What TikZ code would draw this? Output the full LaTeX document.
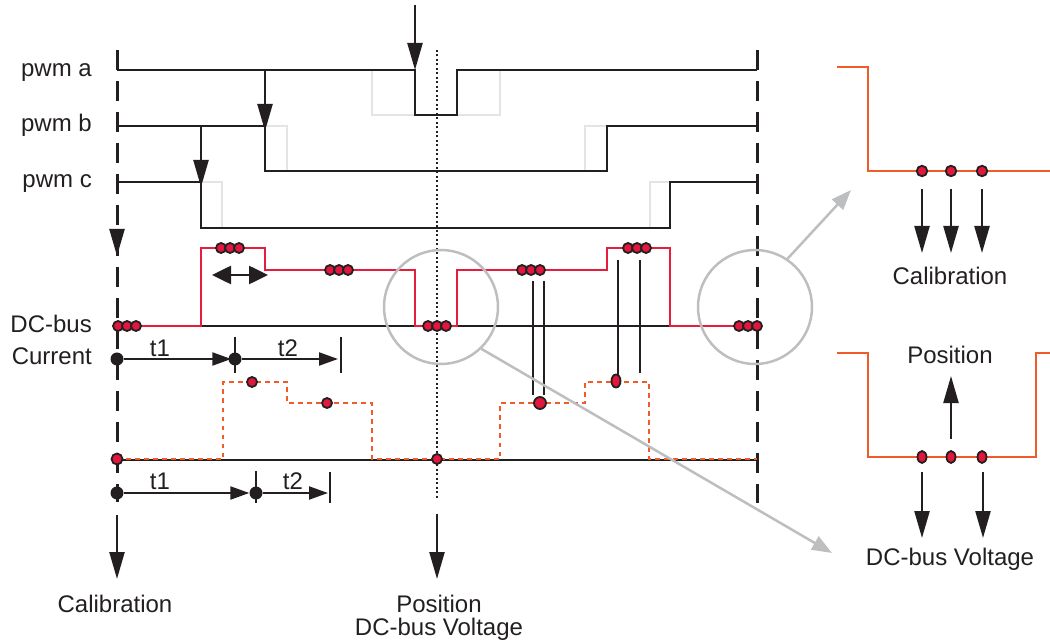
\documentclass[tikz,border=0pt]{standalone}
\usepackage{fontspec}
\setmainfont{Liberation Sans}
\usetikzlibrary{arrows.meta,positioning,calc,shapes.geometric}
\definecolor{Ink}{HTML}{231F20}
\definecolor{Pulse}{HTML}{E41E3C}
\definecolor{Volt}{HTML}{F15A29}
\definecolor{Ghost}{HTML}{E4E4E4}
\definecolor{Lens}{HTML}{BDBEC0}
\definecolor{Sample}{HTML}{E3173E}

\begin{document}
\begin{tikzpicture}[x=1pt,y=-1pt,
  lbl/.style={font=\fontsize{24}{28}\selectfont,text=Ink,inner sep=0pt,anchor=base},
  wave/.style={Ink,line width=2.3pt},
  ghost/.style={Ghost,line width=2pt},
  cutline/.style={Ink,line width=3pt,dash pattern=on 20pt off 11pt},
  midline/.style={Ink,line width=1.7pt,dash pattern=on 2pt off 2.5pt},
  drop/.style={Ink,line width=2.3pt,-{Triangle[length=27pt,width=15pt]}},
  tspan/.style={Ink,line width=2.2pt,-{Triangle[length=19pt,width=13pt]}},
  zoomto/.style={Lens,line width=2.5pt,-{Triangle[length=20pt,width=15pt]}},
  sample/.style={circle,fill=Sample,draw=Ink,line width=1.8pt,minimum size=10pt,inner sep=0pt},
  tdot/.style={circle,fill=Ink,minimum size=13pt,inner sep=0pt},
  lens/.style={circle,draw=Lens,line width=2.5pt,minimum size=114pt,inner sep=0pt}
]
\useasboundingbox (0,0) rectangle (1050,644);
% signal names
\node[lbl,anchor=base east] (pwma) at (92,77) {pwm a};
\node[lbl,anchor=base east] (pwmb) at (92,132) {pwm b};
\node[lbl,anchor=base east] (pwmc) at (92,188) {pwm c};
\node[lbl,anchor=base east] (dcbus) at (92,333) {DC-bus};
\node[lbl,anchor=base east] (current) at (92,365) {Current};
% window borders
\draw[cutline] (117,50) -- (117,502);
\draw[cutline] (757,50) -- (757,503);
\draw[midline] (437,50) -- (437,498);
% previous pwm edges
\draw[ghost] (372,70) -- (372,115) -- (500,115) -- (500,70);
\draw[ghost] (265,126) -- (287,126) -- (287,171);
\draw[ghost] (585,171) -- (585,126) -- (607,126);
\draw[ghost] (201,182) -- (222,182) -- (222,228);
\draw[ghost] (650,228) -- (650,182) -- (670,182);
% pwm signals
\draw[wave] (117,70) -- (415,70) -- (415,115) -- (457,115) -- (457,70) -- (757,70);
\draw[wave] (117,126) -- (265,126) -- (265,171) -- (607,171) -- (607,126) -- (757,126);
\draw[wave] (117,182) -- (201,182) -- (201,228) -- (670,228) -- (670,182) -- (757,182);
\draw[drop] (415,5) -- (415,70);
\draw[drop] (265,71) -- (265,131);
\draw[drop] (201,127) -- (201,187);
\draw[drop] (117,229) -- (117,256);
% DC-bus current
\draw[wave] (117,326) -- (757,326);
\draw[Pulse,line width=2.5pt] (117,326) -- (201,326) -- (201,248) -- (265,248) -- (265,270) -- (415,270)
  -- (415,326) -- (457,326) -- (457,270) -- (607,270) -- (607,248) -- (670,248) -- (670,326) -- (757,326);
\draw[Ink,line width=2.6pt,{Triangle[length=19pt,width=18pt]}-{Triangle[length=19pt,width=18pt]}] (212,275) -- (268,275);
\foreach \x/\y/\n in {118/326/a,221/248/b,330/270/c,428/326/d,522/270/e,628/248/f,739/326/g}{
  \foreach \k in {0,1,2}{\node[sample] (tri\n\k) at (\x+9*\k,\y) {};}
}
% sampling delays
\draw[wave] (235,337) -- (235,373);
\draw[wave] (341,337) -- (341,373);
\node[tdot] (ta0) at (117,359) {};
\node[tdot] (ta1) at (235,359) {};
\coordinate (ta2) at (341,359);
\draw[tspan,shorten >=-3pt] (ta0) -- (ta1);
\draw[tspan,shorten >=3pt] (ta1) -- (ta2);
\node[lbl] (t1a) at (160,356) {t1};
\node[lbl] (t2a) at (288,356) {t2};
% DC-bus voltage
\draw[wave] (533,281) -- (533,395);
\draw[wave] (544,281) -- (544,395);
\draw[wave] (618,260) -- (618,375);
\draw[wave] (640,260) -- (640,373);
\draw[wave] (117,460) -- (757,460);
\draw[Volt,line width=2.6pt,dash pattern=on 4.5pt off 4.5pt] (117,459) -- (223,459) -- (223,382) -- (287,382) -- (287,403)
  -- (372,403) -- (372,459) -- (500,459) -- (500,403) -- (585,403) -- (585,382) -- (649,382) -- (649,459) -- (757,459);
\node[sample,minimum size=11pt] (va) at (117,459) {};
\node[sample] (vb) at (437,459) {};
\node[sample] (vc) at (252,382) {};
\node[sample] (vd) at (327,403) {};
\node[sample,minimum size=12pt] (ve) at (540,403) {};
\node[sample,ellipse,minimum width=9pt,minimum height=13pt] (vf) at (616,381) {};
\draw[wave] (256,471) -- (256,503);
\draw[wave] (330,472) -- (330,503);
\node[tdot] (tb0) at (117,493) {};
\node[tdot] (tb1) at (256,493) {};
\coordinate (tb2) at (330,493);
\draw[tspan] (tb0) -- (tb1);
\draw[tspan,shorten >=2pt] (tb1) -- (tb2);
\node[lbl] (t1b) at (160,489) {t1};
\node[lbl] (t2b) at (293,489) {t2};
% outputs
\draw[drop] (117,515) -- (117,579);
\draw[drop] (437,514) -- (437,579);
\node[lbl] (calL) at (115,612) {Calibration};
\node[lbl] (posM) at (439,612) {Position};
\node[lbl] (vltM) at (439,635) {DC-bus Voltage};
% zoomed views
\node[lens] (lensM) at (441,307) {};
\node[lens] (lensR) at (755,307) {};
\coordinate (calView) at (851,190);
\coordinate (posView) at (832,553);
\draw[zoomto] (lensR.56) -- (calView);
\draw[zoomto] (lensM.-46) -- (posView);
\draw[Volt,line width=2.5pt] (837,67) -- (868,67) -- (868,171) -- (1050,171);
\foreach \x [count=\i] in {922,951,982}{
  \node[sample,minimum size=10.5pt] (cal\i) at (\x,171) {};
  \draw[drop] (\x,189) -- (\x,253);
}
\node[lbl] (calR) at (950,285) {Calibration};
\draw[Volt,line width=2.5pt] (837,353) -- (868,353) -- (868,457) -- (1036,457) -- (1036,353) -- (1050,353);
\foreach \x [count=\i] in {922,951,982}{
  \node[sample,ellipse,minimum width=9pt,minimum height=12pt] (pos\i) at (\x,457) {};
}
\draw[drop] (951,439) -- (951,376);
\draw[drop] (922,472) -- (922,538);
\draw[drop] (983,472) -- (983,538);
\node[lbl] (posR) at (950,363) {Position};
\node[lbl] (vltR) at (950,565) {DC-bus Voltage};
\end{tikzpicture}
\end{document}
